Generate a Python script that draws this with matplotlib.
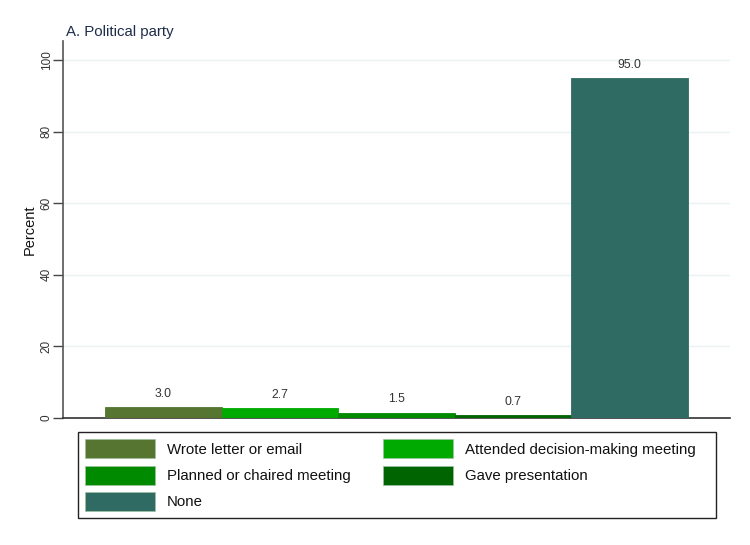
import matplotlib
matplotlib.use("Agg")
import matplotlib.pyplot as plt
from matplotlib.patches import Patch, Rectangle

plt.rcParams['font.family'] = ['Liberation Sans', 'DejaVu Sans']

categories = ["Wrote letter or email", "Attended decision-making meeting",
              "Planned or chaired meeting", "Gave presentation", "None"]
values = [3.0, 2.7, 1.5, 0.7, 95.0]
colors = ["#557530", "#00aa00", "#008a00", "#006400", "#2f6b62"]
yticks = [0, 20, 40, 60, 80, 100]
title = "A. Political party"

W, H = 750, 545
fig = plt.figure(figsize=(W/100, H/100), dpi=100)
ax = fig.add_axes([63/W, 1-418/H, (730-63)/W, (418-41)/H])

x = list(range(len(values)))
bars = ax.bar(x, values, width=1.0, color=colors, edgecolor=colors, linewidth=0.6, zorder=3)
for xi, v in zip(x, values):
    ax.text(xi, v + 2.0, f"{v:.1f}", ha='center', va='bottom', fontsize=8.8, color='#333333')

ax.set_xlim(-0.86, 4.86)
ax.set_ylim(0, 105.3)
ax.set_yticks(yticks)
ax.set_yticklabels([str(t) for t in yticks], rotation=90, va='center', fontsize=8.5, color='#333333')
ax.tick_params(axis='y', length=7, width=1, color='#444444', pad=0.5)
ax.set_xticks([])
ax.grid(axis='y', color='#eaf2f3', linewidth=1, zorder=0)
for s in ['top', 'right']:
    ax.spines[s].set_visible(False)
ax.spines['left'].set_color('#555555')
ax.spines['bottom'].set_color('#333333')
ax.spines['left'].set_linewidth(1.2)
ax.spines['bottom'].set_linewidth(1.2)
ax.set_ylabel("Percent", fontsize=10.5, color='#111111', va='center')
ax.yaxis.set_label_coords((30-63)/667, 0.5)
ax.text(0.005, 1.005, title, transform=ax.transAxes, fontsize=10.8, color='#1e2d4a', ha='left', va='bottom')

handles = [Patch(facecolor=c, edgecolor='#a0c0a0', linewidth=0.5) for c in colors]
order = [0, 2, 4, 1, 3]
leg = fig.legend([handles[i] for i in order], [categories[i] for i in order],
                 loc='upper left', bbox_to_anchor=(77.5/W, 1-431.7/H), ncol=2,
                 fontsize=10.8, frameon=False,
                 handlelength=4.67, handleheight=1.57, handletextpad=0.77,
                 columnspacing=2.2, labelspacing=0.49, borderpad=0.5, borderaxespad=0)
for t in leg.get_texts():
    t.set_color('#111111')
fig.patches.append(Rectangle((77.5/W, 1-518/H), (716-77.5)/W, (518-431.7)/H,
                             transform=fig.transFigure, fill=False,
                             edgecolor='#222222', linewidth=1.0))

fig.savefig("out.png", dpi=100, facecolor='white')
